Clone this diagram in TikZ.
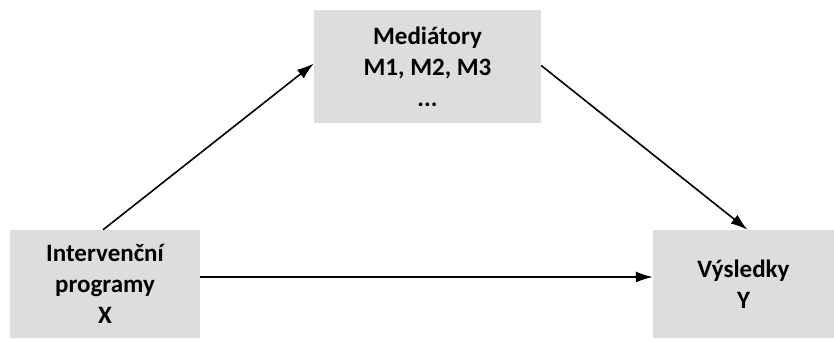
\documentclass[tikz,border=0pt]{standalone}
\usepackage{fontspec}
\setmainfont{Carlito}
\usetikzlibrary{arrows.meta}
\definecolor{boxgray}{RGB}{220,221,223}

\begin{document}
\begin{tikzpicture}[x=1pt, y=1pt,
  box/.style={fill=boxgray, draw=none, align=center, inner sep=0pt,
    font=\fontsize{25}{31}\selectfont\bfseries},
  arr/.style={-{Latex[length=17pt, width=11pt]}, line width=1.6pt}]
\useasboundingbox (0,0) rectangle (834,-338);

\node[box, minimum width=227, minimum height=113] (M) at (427.5,-66.5)  {Mediátory\\M1, M2, M3\\...};
\node[box, minimum width=190, minimum height=108] (X) at (105,-284)     {Intervenční\\programy\\X};
\node[box, minimum width=181, minimum height=108] (Y) at (743.5,-284)   {Výsledky\\Y};

\draw[arr] ([xshift=-2pt]X.north) -- ([yshift=3pt]M.west);
\draw[arr] ([yshift=1pt]M.east) -- ([xshift=4pt]Y.north);
\draw[arr] ([yshift=7pt]X.east) -- ([yshift=7pt]Y.west);
\end{tikzpicture}
\end{document}
